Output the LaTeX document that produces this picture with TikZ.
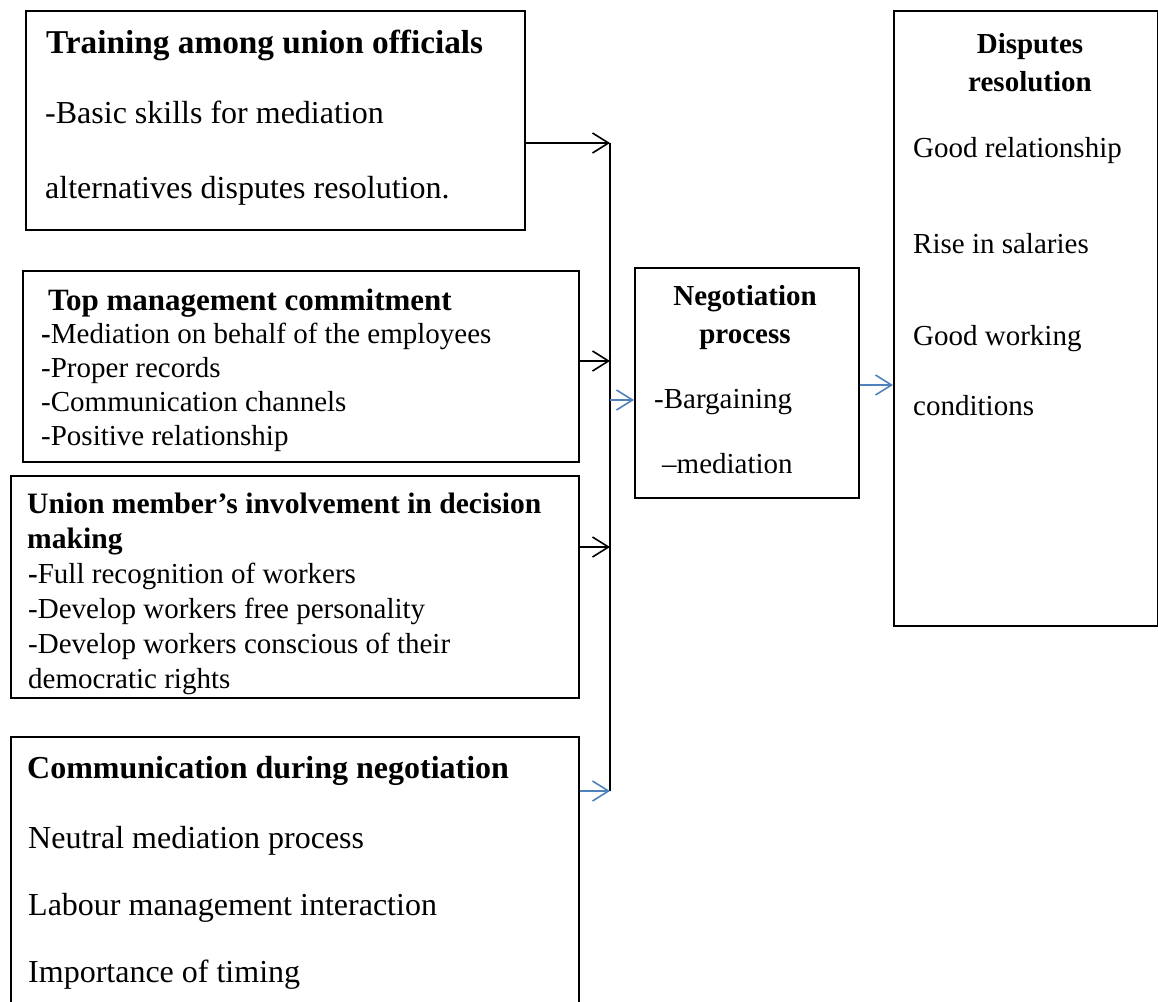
\documentclass[tikz,border=0pt]{standalone}
\usepackage{fontspec}
\setmainfont{Liberation Serif}
\usepackage{tikz}
\usetikzlibrary{arrows.meta,calc}
\definecolor{LinkBlue}{HTML}{4F81BD}
\newcommand{\bigsz}{\fontsize{32}{38}\selectfont}
\newcommand{\smsz}{\fontsize{29}{34}\selectfont}

\tikzset{
  box/.style={draw,line width=1.6pt,anchor=north west,inner sep=0pt},
  line/.style={anchor=base west,inner sep=0pt,font=\smsz},
  bigline/.style={anchor=base west,inner sep=0pt,font=\bigsz},
  head/.style={anchor=base,inner sep=0pt,font=\smsz\bfseries},
  feed/.style={line width=1.6pt,-{Straight Barb[length=16pt,width=20pt,line width=1.6pt]}},
  bluefeed/.style={feed,draw=LinkBlue}
}

\begin{document}
\begin{tikzpicture}[x=1pt,y=-1pt]
    \useasboundingbox (0,0) rectangle (1158,1001);
    \clip (0,0) rectangle (1158,1001);

    % boxes on the left
    \node[box,minimum width=499,minimum height=219] (train) at (25,10) {};
    \node[box,minimum width=556,minimum height=191] (topman) at (22,270) {};
    \node[box,minimum width=568,minimum height=222] (member) at (10,475) {};
    \node[box,minimum width=568,minimum height=320] (comm) at (10,736) {};

    % middle and right
    \node[box,minimum width=224,minimum height=230] (nego) at (634,267) {};
    \node[box,minimum width=264,minimum height=615] (resol) at (893,10) {};

    % training
    \node[bigline,font=\fontsize{33.3}{38}\selectfont\bfseries] (train-t) at (46,53) {Training among union officials};
    \node[bigline] (train-1) at (45,123) {-Basic skills for mediation};
    \node[bigline] (train-2) at (45,198) {alternatives disputes resolution.};

    % top management
    \node[line,font=\fontsize{31}{34}\selectfont\bfseries] (topman-t) at (48,310) {Top management commitment};
    \node[line] (topman-1) at (41,343) {\textbf{-}Mediation on behalf of the employees};
    \foreach \t [count=\i from 2] in {-Proper records,-Communication channels,-Positive relationship}
        \node[line] (topman-\i) at (41,309+34*\i) {\t};

    % union members
    \node[line,font=\fontsize{29.6}{34}\selectfont\bfseries] (member-t1) at (27,513) {Union member’s involvement in decision};
    \node[line,font=\fontsize{29.6}{34}\selectfont\bfseries] (member-t2) at (27,548) {making};
    \node[line] (member-1) at (28,583) {\textbf{-}Full recognition of workers};
    \foreach \t [count=\i from 2] in {-Develop workers free personality,-Develop workers conscious of their,democratic rights}
        \node[line] (member-\i) at (28,548+35*\i) {\t};

    % communication
    \node[bigline,font=\bigsz\bfseries] (comm-t) at (27,778) {Communication during negotiation};
    \foreach \t [count=\i] in {Neutral mediation process,Labour management interaction,Importance of timing}
        \node[bigline] (comm-\i) at (28,781+67*\i) {\t};

    % negotiation
    \node[head] (nego-t1) at (745,305) {Negotiation};
    \node[head] (nego-t2) at (745,343) {process};
    \node[line] (nego-1) at (654,408) {-Bargaining};
    \node[line] (nego-2) at (662,473) {–mediation};

    % outcome
    \node[head] (resol-t1) at (1030,53) {Disputes};
    \node[head] (resol-t2) at (1030,91) {resolution};
    \node[line] (resol-1) at (913,157) {Good relationship};
    \node[line] (resol-2) at (913,253) {Rise in salaries};
    \node[line] (resol-3) at (913,345) {Good working};
    \node[line] (resol-4) at (913,415) {conditions};

    % collecting line
    \coordinate (j1) at (610,143);
    \coordinate (j2) at (610,361);
    \coordinate (j3) at (610,547);
    \coordinate (j4) at (610,791);
    \coordinate (j5) at (610,400);
    \draw[line width=1.8pt] (j1) -- (j4);
    \draw[feed] (train.east |- j1) -- (j1);
    \draw[feed] (topman.east |- j2) -- (j2);
    \draw[feed] (member.east |- j3) -- (j3);
    \draw[bluefeed] (comm.east |- j4) -- (j4);
    \draw[bluefeed] (j5) -- (nego.west |- j5);
    \draw[bluefeed] (nego.east |- 0,385) -- (resol.west |- 0,385);
\end{tikzpicture}
\end{document}
